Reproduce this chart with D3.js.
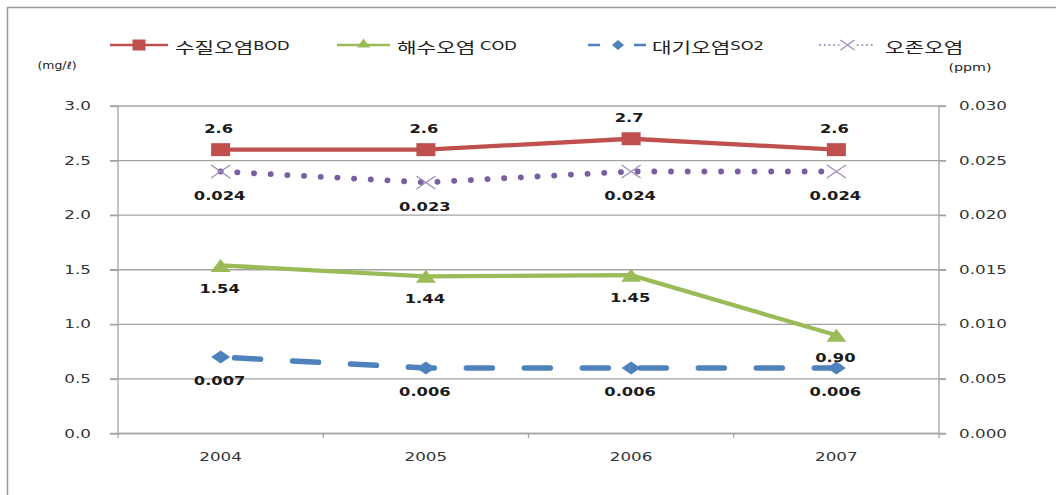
<!DOCTYPE html>
<html><head><meta charset="utf-8">
<script src="https://cdn.jsdelivr.net/npm/d3@7"></script>
<style>
html,body{margin:0;padding:0;background:#fff;}
svg{display:block;}
</style></head>
<body>
<svg id="chart" width="1056" height="495"></svg>
<script>
const years = ["2004","2005","2006","2007"];
const bod = [2.6, 2.6, 2.7, 2.6];
const cod = [1.54, 1.44, 1.45, 0.90];
const so2 = [0.007, 0.006, 0.006, 0.006];
const ozone = [0.024, 0.023, 0.024, 0.024];
const leftTicks = [0, 0.5, 1.0, 1.5, 2.0, 2.5, 3.0];
const rightTicks = [0, 0.005, 0.010, 0.015, 0.020, 0.025, 0.030];
const bodLabels = ["2.6","2.6","2.7","2.6"];
const codLabels = ["1.54","1.44","1.45","0.90"];
const so2Labels = ["0.007","0.006","0.006","0.006"];
const ozoneLabels = ["0.024","0.023","0.024","0.024"];
const legendNames = [["수질오염","BOD"],["해수오염 ","COD"],["대기오염","SO2"],["오존오염",""]];
const leftUnit = "(mg/ℓ)";
const rightUnit = "(ppm)";

const SX = 1.42;
const LAT = "'DejaVu Sans', Verdana, sans-serif";
const KR = "'Noto Sans CJK KR', sans-serif";
const svg = d3.select("#chart");

// outer frame (left and top edges)
svg.append("path").attr("d","M7.5,495 V7.5 H1056").attr("fill","none").attr("stroke","#9a9a9a").attr("stroke-width",1.5);

const x = d3.scaleBand().domain(years).range([118, 939]);
const yL = d3.scaleLinear().domain([0,3]).range([433.5, 106]);
const yR = d3.scaleLinear().domain([0,0.03]).range([433.5, 106]);
const cx = d => x(d) + x.bandwidth()/2;

function stext(g, tx, ty, str, opts){
  const gg = g.append("g").attr("transform", `translate(${tx},${ty})`);
  const t = gg.append("text").attr("transform", `scale(${opts.sx||SX},1)`)
    .attr("text-anchor", opts.anchor||"middle")
    .attr("dominant-baseline","central")
    .attr("font-family", opts.font||LAT)
    .attr("font-size", opts.size||12)
    .attr("font-weight", opts.weight||"normal")
    .attr("fill", opts.fill||"#333")
    .text(str);
  return t;
}

// gridlines
svg.append("g").selectAll("line").data(leftTicks).join("line")
  .attr("x1",110).attr("x2",946).attr("y1",d=>yL(d)).attr("y2",d=>yL(d))
  .attr("stroke","#a3a3a3").attr("stroke-width",1.3);

// axes
const axL = svg.append("g").attr("transform","translate(118,0)")
  .call(d3.axisLeft(yL).tickValues(leftTicks).tickSize(8).tickFormat(""));
const axR = svg.append("g").attr("transform","translate(939,0)")
  .call(d3.axisRight(yR).tickValues(rightTicks).tickSize(7).tickFormat(""));
const bounds = [years[1], years[2], years[3]].map(d => x(d));
const axB = svg.append("g").attr("transform","translate(0,433.5)")
  .call(d3.axisBottom(x).tickSize(0).tickFormat(""));
svg.append("g").selectAll("line").data(bounds).join("line")
  .attr("x1",d=>d).attr("x2",d=>d).attr("y1",433.5).attr("y2",438)
  .attr("stroke","#a3a3a3").attr("stroke-width",1.3);
[axL, axR, axB].forEach(a=>{
  a.selectAll("path.domain").attr("stroke","#a3a3a3").attr("stroke-width",1.3);
  a.selectAll(".tick line").attr("stroke","#a3a3a3").attr("stroke-width",1.3);
});
axL.select("path.domain").attr("d","M0,106V438");
axR.select("path.domain").attr("d","M0,106V438");
axB.select("path.domain").attr("d","M118,0H939");

// tick labels
leftTicks.forEach(v => stext(svg, 91, yL(v), d3.format(".1f")(v), {anchor:"end", size:11.8}));
rightTicks.forEach(v => stext(svg, 959, yR(v), d3.format(".3f")(v), {anchor:"start", size:11.8}));
years.forEach(y => stext(svg, cx(y), 457, y, {size:11.8}));
stext(svg, 57, 66, leftUnit, {size:10, sx:1.25, fill:"#222"});
stext(svg, 970, 67, rightUnit, {size:11, sx:1.3, fill:"#222"});

// series
const COL = {bod:"#C0504D", cod:"#9BBB59", so2:"#4F81BD", oz:"#7A5FA0"};
function linePath(vals, sc){ return d3.line().x((d,i)=>cx(years[i])).y(d=>sc(d))(vals); }

svg.append("path").attr("d", linePath(ozone, yR)).attr("fill","none").attr("stroke",COL.oz)
  .attr("stroke-width",5.8).attr("stroke-linecap","round").attr("stroke-dasharray","0.1 16.6");
svg.append("path").attr("d", linePath(so2, yR)).attr("fill","none").attr("stroke",COL.so2)
  .attr("stroke-width",5.5).attr("stroke-linecap","round").attr("stroke-dasharray","26 32").attr("stroke-dashoffset","-14");
svg.append("path").attr("d", linePath(cod, yL)).attr("fill","none").attr("stroke",COL.cod).attr("stroke-width",4.3);
svg.append("path").attr("d", linePath(bod, yL)).attr("fill","none").attr("stroke",COL.bod).attr("stroke-width",4.3);

// markers
function square(g, px, py, w, h){ g.append("rect").attr("x",px-w/2).attr("y",py-h/2).attr("width",w).attr("height",h).attr("fill",COL.bod); }
function tri(g, px, py, w, h){ g.append("path").attr("d",`M${px},${py-h/2}L${px+w/2},${py+h/2}L${px-w/2},${py+h/2}Z`).attr("fill",COL.cod); }
function diamond(g, px, py, w, h){ g.append("path").attr("d",`M${px},${py-h/2}L${px+w/2},${py}L${px},${py+h/2}L${px-w/2},${py}Z`).attr("fill",COL.so2); }
function cross(g, px, py, w, h){ g.append("path").attr("d",`M${px-w/2},${py-h/2}L${px+w/2},${py+h/2}M${px+w/2},${py-h/2}L${px-w/2},${py+h/2}`).attr("stroke","#A08CC0").attr("stroke-width",1.3).attr("fill","none"); }

const mk = svg.append("g");
ozone.forEach((v,i)=>cross(mk, cx(years[i]), yR(v), 19, 13));
so2.forEach((v,i)=>diamond(mk, cx(years[i]), yR(v), 19, 13));
cod.forEach((v,i)=>tri(mk, cx(years[i]), yL(v), 20, 13));
bod.forEach((v,i)=>square(mk, cx(years[i]), yL(v), 19, 13));

// data labels
const lab = {size:12, weight:"bold", fill:"#1a1a1a", sx:1.36};
bod.forEach((v,i)=>stext(svg, cx(years[i])-2, yL(v)-21, bodLabels[i], lab));
ozone.forEach((v,i)=>stext(svg, cx(years[i])-1, yR(v)+24, ozoneLabels[i], lab));
cod.forEach((v,i)=>stext(svg, cx(years[i])-1, yL(v)+23, codLabels[i], lab));
so2.forEach((v,i)=>stext(svg, cx(years[i])-1, yR(v)+24, so2Labels[i], lab));

// legend
const lg = svg.append("g");
const LY = 45;
const lstarts = [110, 337, 588, 820];
const llen = [58, 53, 58, 55];
const ltext = [175, 397, 652, 885];
// BOD
lg.append("line").attr("x1",lstarts[0]).attr("x2",lstarts[0]+llen[0]).attr("y1",LY).attr("y2",LY).attr("stroke",COL.bod).attr("stroke-width",2.5);
square(lg, lstarts[0]+llen[0]/2, LY, 13, 11);
// COD
lg.append("line").attr("x1",lstarts[1]).attr("x2",lstarts[1]+llen[1]).attr("y1",LY).attr("y2",LY).attr("stroke",COL.cod).attr("stroke-width",2.5);
tri(lg, lstarts[1]+llen[1]/2, LY-2, 13, 9);
// SO2
lg.append("line").attr("x1",lstarts[2]).attr("x2",lstarts[2]+llen[2]).attr("y1",LY).attr("y2",LY).attr("stroke",COL.so2).attr("stroke-width",2.5).attr("stroke-dasharray","12 34");
diamond(lg, lstarts[2]+llen[2]/2+1, LY, 12, 10);
// Ozone
lg.append("line").attr("x1",lstarts[3]).attr("x2",lstarts[3]+llen[3]).attr("y1",LY).attr("y2",LY).attr("stroke","#A08CC0").attr("stroke-width",2).attr("stroke-linecap","round").attr("stroke-dasharray","0.1 4.6");
lg.append("rect").attr("x",lstarts[3]+llen[3]/2-8).attr("y",LY-6).attr("width",16).attr("height",12).attr("fill","#fff");
cross(lg, lstarts[3]+llen[3]/2, LY, 14, 10);

legendNames.forEach((n,i)=>{
  const gg = lg.append("g").attr("transform",`translate(${ltext[i]},${LY+1})`);
  const t = gg.append("text").attr("transform",`scale(${SX},1)`).attr("dominant-baseline","central").attr("fill","#222");
  t.append("tspan").attr("font-family",KR).attr("font-size",15).text(n[0]);
  if(n[1]) t.append("tspan").attr("font-family",LAT).attr("font-size",11.5).text(n[1]);
});
</script>
</body></html>
